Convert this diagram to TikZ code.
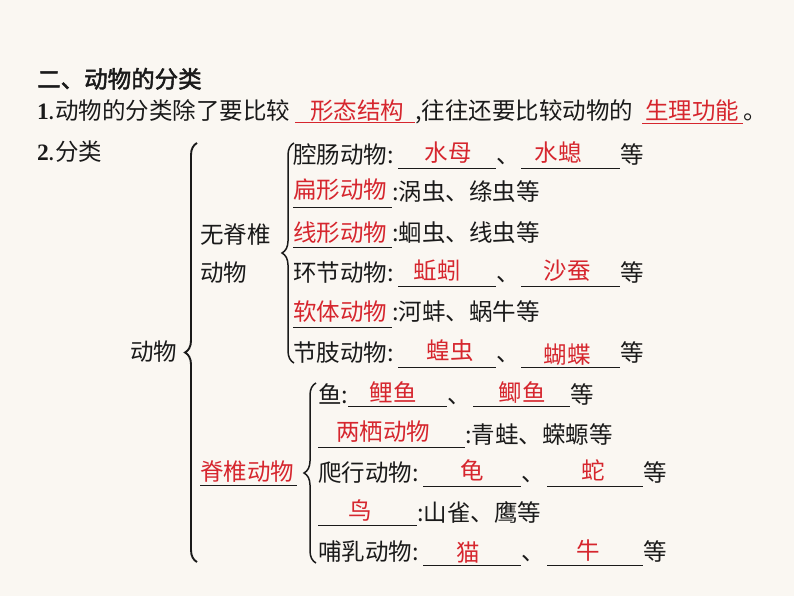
\documentclass[tikz,border=0pt]{standalone}
\usepackage{fontspec}
\setmainfont{Liberation Serif}
\newfontfamily\cjk{Noto Sans CJK SC}[AutoFakeBold=2]
\usetikzlibrary{decorations.pathreplacing}
\definecolor{paper}{HTML}{FAF7F2}
\definecolor{ink}{HTML}{1A1A1A}
\definecolor{answer}{HTML}{D6262E}

\begin{document}
\begin{tikzpicture}[
  x=1pt, y=-1pt,
  txt/.style={
    anchor=west,
    inner sep=0pt,
    text height=20.5pt,
    text depth=3pt,
    text=ink,
    font=\cjk\fontsize{23.5}{28}\selectfont
  },
  ans/.style={txt, anchor=center, text=answer},
  redtxt/.style={txt, text=answer},
  rule/.style={draw=ink, line width=0.9pt},
  redrule/.style={draw=answer, line width=0.9pt},
  bracket/.style={
    draw=ink,
    line width=#1,
    decorate,
    decoration={brace, amplitude=12}
  }
]
\fill[paper] (0,0) rectangle (794,596);
\useasboundingbox (0,0) rectangle (794,596);

% heading and first sentence
\node[txt] (title) at (37,79) {\bfseries 二、动物的分类};
\node[txt] (sent) at (37,111) {{\rmfamily\bfseries 1}.动物的分类除了要比较};
\node[ans] (form) at (357,111) {形态结构};
\draw[redrule] (295,122) -- (415,122);
\node[txt] (sentb) at (415,111) {,往往还要比较动物的};
\node[ans] (func) at (692,111) {生理功能};
\draw[redrule] (642,123) -- (743,123);
\node[txt] (stop) at (743,111) {。};
\node[txt] (cls) at (37,152) {{\rmfamily\bfseries 2}.分类};

% tree labels
\node[txt] (animal) at (130,352) {动物};
\node[txt] (inv) at (200,235) {无脊椎};
\node[txt] (invb) at (200,273) {动物};
\node[redtxt] (vert) at (200,472) {脊椎动物};
\draw[rule] (200,485) -- (297,485);

\draw[bracket=1.9pt] (197,562) -- (197,143);
\draw[bracket=1.5pt] (294,363) -- (294,143);
\draw[bracket=1.5pt] (316,563) -- (316,383);

% invertebrates
\node[txt] (coel) at (293,155) {腔肠动物:};
\draw[rule] (398,168) -- (496,168);
\draw[rule] (521,168) -- (620,168);
\node[ans] (jelly) at (448,153) {水母};
\node[txt] (ca) at (496,155) {、};
\node[ans] (hydra) at (558,153) {水螅};
\node[txt] (cb) at (620,155) {等};

\node[redtxt] (flat) at (293,190) {扁形动物};
\draw[rule] (293,207) -- (392,207);
\node[txt] (flatex) at (392,192) {:涡虫、绦虫等};

\node[redtxt] (round) at (293,233) {线形动物};
\draw[rule] (293,247) -- (392,247);
\node[txt] (roundex) at (392,233) {:蛔虫、线虫等};

\node[txt] (annel) at (293,273) {环节动物:};
\draw[rule] (398,286) -- (496,286);
\draw[rule] (521,286) -- (620,286);
\node[ans] (worm) at (437,271) {蚯蚓};
\node[txt] (aa) at (496,273) {、};
\node[ans] (rag) at (567,271) {沙蚕};
\node[txt] (ab) at (620,273) {等};

\node[redtxt] (moll) at (293,312) {软体动物};
\draw[rule] (293,327) -- (392,327);
\node[txt] (mollex) at (392,312) {:河蚌、蜗牛等};

\node[txt] (arth) at (293,353) {节肢动物:};
\draw[rule] (398,367) -- (496,367);
\draw[rule] (521,367) -- (620,367);
\node[ans] (locust) at (450,351) {蝗虫};
\node[txt] (ra) at (496,353) {、};
\node[ans] (butter) at (567,355) {蝴蝶};
\node[txt] (rb) at (620,353) {等};

% vertebrates
\node[txt] (fish) at (318,395) {鱼:};
\draw[rule] (348,406) -- (447,406);
\draw[rule] (473,406) -- (570,406);
\node[ans] (carp) at (393,393) {鲤鱼};
\node[txt] (fa) at (447,395) {、};
\node[ans] (crucian) at (522,393) {鲫鱼};
\node[txt] (fb) at (570,395) {等};

\draw[rule] (318,447) -- (465,447);
\node[ans] (amph) at (383,432) {两栖动物};
\node[txt] (amphex) at (465,435) {:青蛙、蝾螈等};

\node[txt] (rept) at (318,473) {爬行动物:};
\draw[rule] (423,486) -- (521,486);
\draw[rule] (547,486) -- (643,486);
\node[ans] (turtle) at (472,471) {龟};
\node[txt] (pa) at (521,473) {、};
\node[ans] (snake) at (593,471) {蛇};
\node[txt] (pb) at (643,473) {等};

\draw[rule] (318,525) -- (417,525);
\node[ans] (bird) at (360,511) {鸟};
\node[txt] (birdex) at (417,513) {:山雀、鹰等};

\node[txt] (mamm) at (318,552) {哺乳动物:};
\draw[rule] (423,565) -- (521,565);
\draw[rule] (547,565) -- (643,565);
\node[ans] (cat) at (468,553) {猫};
\node[txt] (ma) at (521,552) {、};
\node[ans] (cow) at (588,551) {牛};
\node[txt] (mb) at (643,552) {等};

\end{tikzpicture}
\end{document}
